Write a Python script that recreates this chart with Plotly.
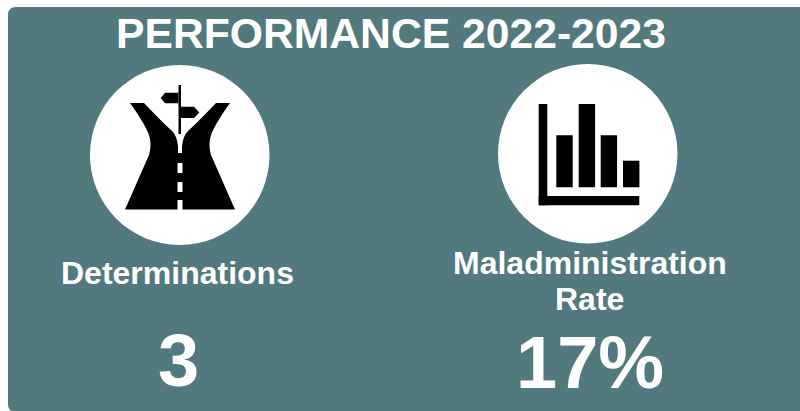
import plotly.graph_objects as go

W, H = 800, 411
TEAL = "#527a7e"
FONT = "Arial, Liberation Sans, sans-serif"

title = "PERFORMANCE 2022-2023"
labels = ["Determinations", "Maladministration", "Rate"]
values = ["3", "17%"]
bar_heights = [52, 83.3, 52, 26.6]


def rounded_rect(x0, y0, x1, y1, r):
    return (f"M{x0+r},{y0} L{x1},{y0} L{x1},{y1} L{x0+r},{y1} "
            f"Q{x0},{y1} {x0},{y1-r} L{x0},{y0+r} Q{x0},{y0} {x0+r},{y0} Z")


def rect(x0, y0, x1, y1, fill="black"):
    return dict(type="rect", x0=x0, y0=y0, x1=x1, y1=y1,
                fillcolor=fill, line_width=0, layer="above")


def path(d, fill="black"):
    return dict(type="path", path=d, fillcolor=fill, line_width=0, layer="above")


shapes = [
    path(rounded_rect(8, 7, 800, 412, 8), TEAL),
    dict(type="circle", x0=90, y0=65, x1=269.5, y1=245, fillcolor="white", line_width=0, layer="above"),
    dict(type="circle", x0=498, y0=64, x1=677.5, y1=243.5, fillcolor="white", line_width=0, layer="above"),
    # road icon
    path("M130,103 L144,103 Q162,122 172,131 Q177,136 178,146 L178,153 L182,153 L182,146 "
         "Q183,136 188,131 Q198,122 216,103 L230,103 Q215,124 211,135 Q208,144 211,155 "
         "L235,209.5 L125,209.5 L149,155 Q152,144 149,135 Q145,124 130,103 Z"),
    # road dashes
    rect(177.5, 163, 182.5, 173, "white"),
    rect(177.5, 182, 182.5, 192, "white"),
    rect(177.5, 200, 182.5, 210, "white"),
    # signpost
    rect(178.5, 85, 181, 134),
    path("M178.5,92.7 L165,92.7 L160.7,98 L165,103.3 L178.5,103.3 Z"),
    path("M181,106.7 L194,106.7 L199.3,112.4 L194,118 L181,118 Z"),
    # chart icon axes
    rect(538.7, 104, 547.3, 205.3),
    rect(538.7, 196, 639.3, 205.3),
]

# chart icon bars, drawn from the named values
bar_lefts = [556.3, 578.7, 600.7, 623]
for left, h in zip(bar_lefts, bar_heights):
    shapes.append(rect(left, 187.3 - h, left + 16.4, 187.3))

annotations = [
    dict(text=title, x=391, y=33, font=dict(size=42.67, color="white", family=FONT)),
    dict(text=labels[0], x=177.5, y=273, font=dict(size=32, color="white", family=FONT)),
    dict(text=labels[1], x=589.5, y=263, font=dict(size=32, color="white", family=FONT)),
    dict(text=labels[2], x=589.5, y=299, font=dict(size=32, color="white", family=FONT)),
    dict(text=values[0], x=178, y=360, font=dict(size=74, color="white", family=FONT)),
    dict(text=values[1], x=590, y=362, font=dict(size=74, color="white", family=FONT)),
]
for a in annotations:
    a.update(xref="x", yref="y", showarrow=False, xanchor="center", yanchor="middle",
             text=f"<b>{a['text']}</b>")

fig = go.Figure()
fig.update_layout(
    width=W, height=H, margin=dict(l=0, r=0, t=0, b=0),
    paper_bgcolor="white", plot_bgcolor="white", showlegend=False,
    xaxis=dict(range=[0, W], visible=False, fixedrange=True),
    yaxis=dict(range=[H, 0], visible=False, fixedrange=True),
    shapes=shapes, annotations=annotations,
)
fig.write_html("out.html", config=dict(displayModeBar=False),
               post_script="document.body.style.margin='0';document.body.style.overflow='hidden';")
